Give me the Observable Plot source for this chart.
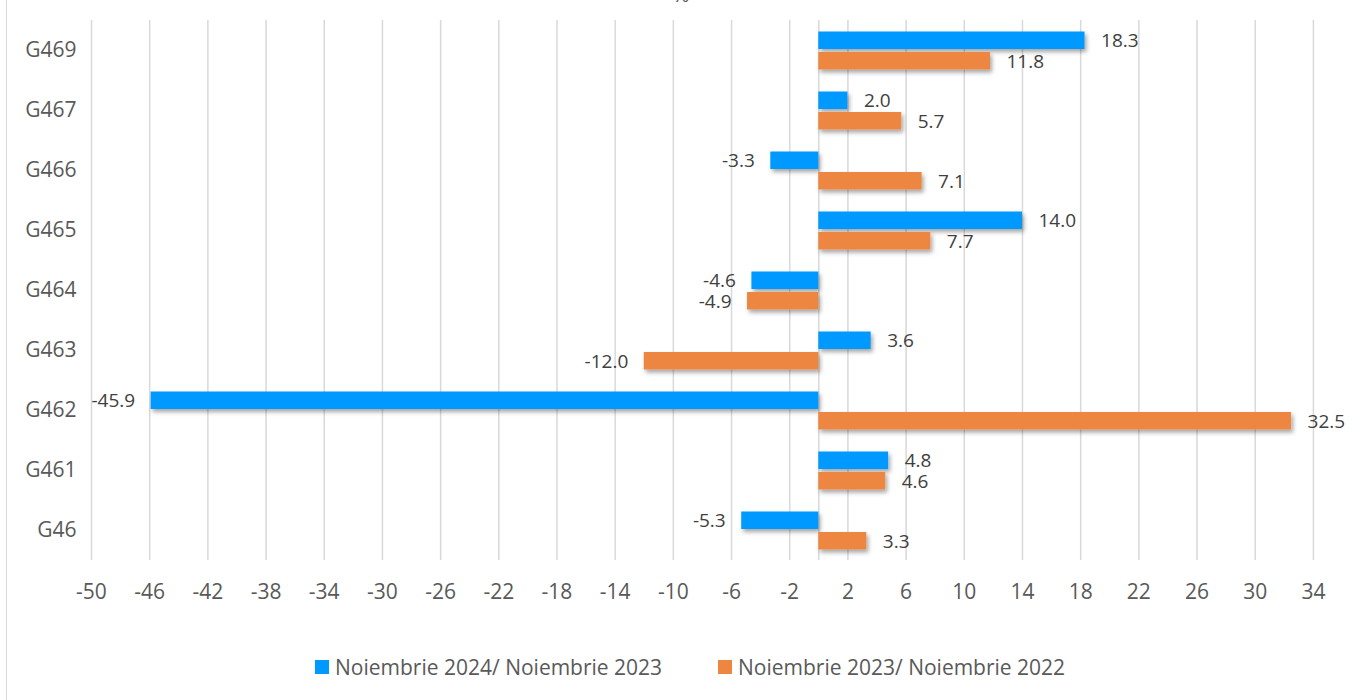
<!DOCTYPE html>
<html>
<head>
<meta charset="utf-8">
<script src="https://cdn.jsdelivr.net/npm/d3@7"></script>
<script src="https://cdn.jsdelivr.net/npm/@observablehq/plot@0.6"></script>
<style>
  html, body { margin: 0; padding: 0; background: #fff; }
  #wrap { position: relative; width: 1364px; height: 700px; overflow: hidden; font-family: "Open Sans", sans-serif; }
  #frame { position: absolute; left: 6px; top: 0; width: 0; height: 700px; border-left: 1.5px solid #d9d9d9; }
  #title { position: absolute; top: -16px; left: 0; width: 1364px; text-align: center; padding-left: 0px; font-size: 21px; line-height: 21px; color: #595959; }
  #chart { position: absolute; left: 0; top: 0; }
  .leg { position: absolute; top: 652px; display: flex; align-items: center; font-size: 21px; color: #595959; white-space: nowrap; line-height: 30px; }
  .leg .sw { width: 14px; height: 14px; margin-right: 6px; }
</style>
</head>
<body>
<div id="wrap">
  <div id="frame"></div>
  <div id="chart"></div>
  <div id="title"><span style="position:relative;left:-1px">%</span></div>
  <div class="leg" style="left:315px"><div class="sw" style="background:#0099FF"></div><span>Noiembrie 2024/ Noiembrie 2023</span></div>
  <div class="leg" style="left:718px"><div class="sw" style="background:#ED8640"></div><span>Noiembrie 2023/ Noiembrie 2022</span></div>
</div>
<script>
const categories = ["G469", "G467", "G466", "G465", "G464", "G463", "G462", "G461", "G46"];
const seriesNames = ["Noiembrie 2024/ Noiembrie 2023", "Noiembrie 2023/ Noiembrie 2022"];
const nov2024vs2023 = [18.3, 2.0, -3.3, 14.0, -4.6, 3.6, -45.9, 4.8, -5.3];
const nov2023vs2022 = [11.8, 5.7, 7.1, 7.7, -4.9, -12.0, 32.5, 4.6, 3.3];
const xTicks = [-50, -46, -42, -38, -34, -30, -26, -22, -18, -14, -10, -6, -2, 2, 6, 10, 14, 18, 22, 26, 30, 34];

const blue = "#0099FF";
const orange = "#ED8640";

const rowsA = categories.map((c, i) => ({cat: c, value: nov2024vs2023[i], series: seriesNames[0]}));
const rowsB = categories.map((c, i) => ({cat: c, value: nov2023vs2022[i], series: seriesNames[1]}));

const labelOpts = (dy, pos) => ({
  x: "value", y: "cat", text: d => d.value.toFixed(1),
  dy, dx: pos ? 16 : -16, textAnchor: pos ? "start" : "end",
  fill: "#404040", fontSize: 19
});

const chart = Plot.plot({
  width: 1364,
  height: 620,
  marginTop: 20,
  marginBottom: 60,
  marginLeft: 91,
  marginRight: 22,
  style: {fontFamily: "Open Sans", fontSize: "21px", color: "#595959", background: "transparent"},
  x: {domain: [-50, 36]},
  y: {domain: categories, padding: 0},
  marks: [
    Plot.gridX(xTicks, {stroke: "#d9d9d9", strokeOpacity: 1, strokeWidth: 1.5}),
    Plot.ruleX([0], {stroke: "#d9d9d9", strokeOpacity: 1, strokeWidth: 1.5}),
    Plot.axisX(xTicks, {tickSize: 0, tickPadding: 24, tickFormat: d => String(d), fontSize: 21, label: null}),
    Plot.axisY({tickSize: 0, tickPadding: 15, fontSize: 21, label: null}),
    Plot.barX(rowsA, {x: "value", y: "cat", fill: blue, insetTop: 11.5, insetBottom: 31}),
    Plot.barX(rowsB, {x: "value", y: "cat", fill: orange, insetTop: 32, insetBottom: 10.5}),
    Plot.text(rowsA.filter(d => d.value >= 0), labelOpts(-9.5, true)),
    Plot.text(rowsA.filter(d => d.value < 0), labelOpts(-9.5, false)),
    Plot.text(rowsB.filter(d => d.value >= 0), labelOpts(11, true)),
    Plot.text(rowsB.filter(d => d.value < 0), labelOpts(11, false))
  ]
});

// drop shadow on bars
const svg = d3.select(chart);
const defs = svg.insert("defs", ":first-child");
const f = defs.append("filter").attr("id", "barShadow").attr("x", "-10%").attr("y", "-40%").attr("width", "130%").attr("height", "200%");
f.append("feDropShadow").attr("dx", 2).attr("dy", 3).attr("stdDeviation", 2).attr("flood-color", "#000").attr("flood-opacity", 0.35);
svg.selectAll("g[aria-label='bar']").attr("filter", "url(#barShadow)");

document.getElementById("chart").appendChild(chart);
</script>
</body>
</html>
